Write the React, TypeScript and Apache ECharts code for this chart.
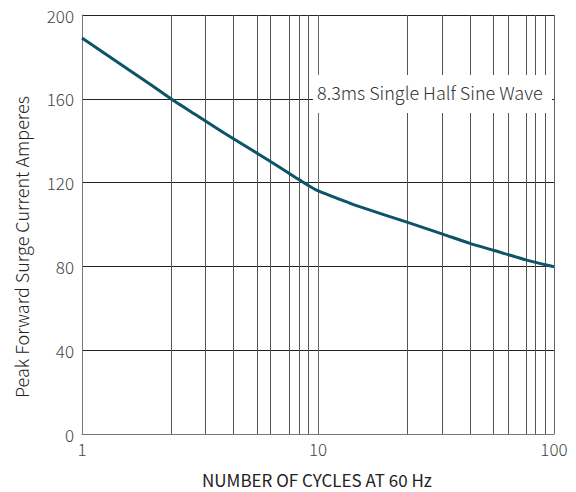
import React, { useEffect, useRef } from "react";
import * as echarts from "echarts";

const cycles = [1, 2, 2.38, 3, 4, 5, 6, 8, 8.69, 9.75, 13.7, 15, 24, 34, 44, 55, 76, 100];
const amperes = [189, 166, 160, 152.7, 143.7, 137, 131.5, 122.6, 120, 116.7, 110.1, 108.5, 101, 95.3, 91, 87.8, 83.1, 79.8];
const minorGrid = [2.38, 3.33, 4.39, 5.53, 6.28, 7.56, 8.36, 9.12, 23.8, 33.7, 44.2, 55.5, 63.8, 76.5, 83.6, 91.8];
const xTicks = [1, 10, 100];
const yTicks = [0, 40, 80, 120, 160, 200];
const annotation = "8.3ms Single Half Sine Wave";
const xTitle = "NUMBER OF CYCLES AT 60 Hz";
const yTitle = "Peak Forward Surge Current Amperes";

const FONT = "'Noto Sans CJK SC', 'Noto Sans', sans-serif";

export default function App() {
  const ref = useRef<HTMLDivElement>(null);
  useEffect(() => {
    if (!ref.current) return;
    const chart = echarts.init(ref.current, null, { renderer: "svg" });
    chart.setOption({
      animation: false,
      backgroundColor: "#fff",
      grid: { left: 82, right: 22, top: 15, bottom: 58, containLabel: false },
      xAxis: {
        type: "log",
        logBase: 10,
        min: xTicks[0],
        max: xTicks[xTicks.length - 1],
        axisLine: { show: true, lineStyle: { color: "#777", width: 1 } },
        axisTick: { show: false },
        axisLabel: {
          color: "#444",
          fontSize: 17,
          fontFamily: FONT,
          fontWeight: 300,
          margin: 6,
        },
        splitLine: { show: true, lineStyle: { color: "#666", width: 1 } },
      },
      yAxis: {
        type: "value",
        min: yTicks[0],
        max: yTicks[yTicks.length - 1],
        interval: 40,
        axisLine: { show: true, lineStyle: { color: "#777", width: 1 } },
        axisTick: { show: false },
        axisLabel: {
          color: "#444",
          fontSize: 17,
          fontFamily: FONT,
          fontWeight: 300,
          margin: 8,
        },
        splitLine: { show: true, lineStyle: { color: "#2a2222", width: 1 } },
      },
      series: [
        {
          type: "line",
          data: [],
          z: 1,
          silent: true,
          markLine: {
            silent: true,
            symbol: ["none", "none"],
            label: { show: false },
            lineStyle: { color: "#555", width: 1, type: "solid" },
            data: minorGrid.map((v) => ({ xAxis: v })),
          },
        },
        {
          type: "line",
          z: 5,
          data: cycles.map((c, i) => [c, amperes[i]]),
          showSymbol: false,
          smooth: 0.2,
          lineStyle: { color: "#0c5468", width: 3 },
        },
      ],
      graphic: [
        {
          type: "rect",
          z: 50,
          shape: { x: 313, y: 75, width: 239, height: 38 },
          style: { fill: "#fff" },
        },
        {
          type: "text",
          z: 51,
          x: 317,
          y: 92,
          style: {
            text: annotation,
            fontSize: 18,
            fontFamily: FONT,
            fontWeight: 300,
            fill: "#333",
            textAlign: "left",
            textVerticalAlign: "middle",
          },
        },
        {
          type: "text",
          x: 317,
          y: 479,
          style: {
            text: xTitle,
            fontSize: 17,
            fontFamily: FONT,
            fill: "#222",
            textAlign: "center",
            textVerticalAlign: "middle",
          },
        },
        {
          type: "text",
          x: 21,
          y: 247,
          rotation: Math.PI / 2,
          style: {
            text: yTitle,
            fontSize: 18,
            fontFamily: FONT,
            fontWeight: 300,
            fill: "#222",
            textAlign: "center",
            textVerticalAlign: "middle",
          },
        },
      ],
    });
    return () => chart.dispose();
  }, []);
  return (
    <div
      ref={ref}
      style={{ position: "absolute", left: 0, top: 0, width: 576, height: 492 }}
    />
  );
}
